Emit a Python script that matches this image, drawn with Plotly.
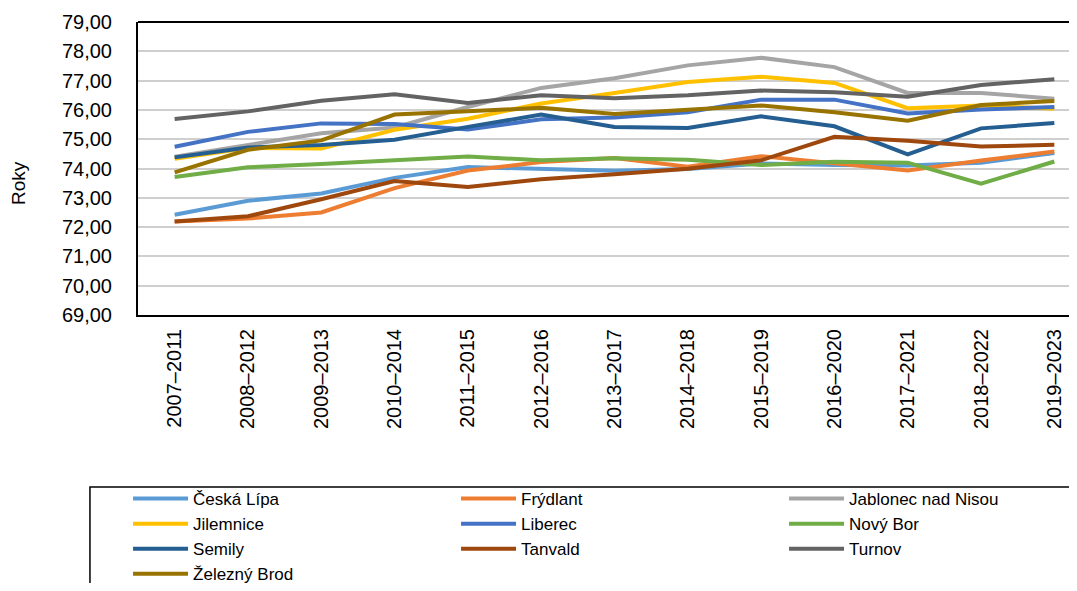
import plotly.graph_objects as go

categories = ["2007–2011", "2008–2012", "2009–2013", "2010–2014", "2011–2015", "2012–2016",
              "2013–2017", "2014–2018", "2015–2019", "2016–2020", "2017–2021", "2018–2022", "2019–2023"]

ceska_lipa = [72.42, 72.90, 73.15, 73.68, 74.05, 74.00, 73.92, 73.98, 74.17, 74.12, 74.10, 74.20, 74.53]
frydlant = [72.19, 72.29, 72.50, 73.33, 73.93, 74.22, 74.36, 74.06, 74.42, 74.19, 73.93, 74.27, 74.58]
jablonec = [74.40, 74.80, 75.20, 75.40, 76.10, 76.75, 77.08, 77.52, 77.78, 77.46, 76.58, 76.58, 76.38]
jilemnice = [74.33, 74.70, 74.68, 75.32, 75.70, 76.22, 76.58, 76.95, 77.13, 76.92, 76.06, 76.15, 76.04]
liberec = [74.74, 75.25, 75.54, 75.52, 75.33, 75.68, 75.74, 75.92, 76.35, 76.35, 75.88, 76.01, 76.10]
novy_bor = [73.71, 74.04, 74.15, 74.27, 74.41, 74.28, 74.35, 74.30, 74.12, 74.23, 74.20, 73.48, 74.24]
semily = [74.38, 74.72, 74.80, 74.98, 75.42, 75.84, 75.42, 75.38, 75.78, 75.44, 74.48, 75.37, 75.55]
tanvald = [72.19, 72.37, 72.95, 73.57, 73.37, 73.63, 73.80, 73.99, 74.28, 75.08, 74.95, 74.75, 74.81]
turnov = [75.69, 75.95, 76.31, 76.53, 76.24, 76.50, 76.40, 76.50, 76.66, 76.60, 76.45, 76.85, 77.05]
zelezny_brod = [73.87, 74.64, 74.96, 75.84, 75.95, 76.07, 75.86, 76.00, 76.15, 75.92, 75.63, 76.17, 76.30]

series_names = ["Česká Lípa", "Frýdlant", "Jablonec nad Nisou", "Jilemnice", "Liberec",
                "Nový Bor", "Semily", "Tanvald", "Turnov", "Železný Brod"]
series_values = [ceska_lipa, frydlant, jablonec, jilemnice, liberec,
                 novy_bor, semily, tanvald, turnov, zelezny_brod]
series_colors = ["#5B9BD5", "#ED7D31", "#A5A5A5", "#FFC000", "#4472C4",
                 "#70AD47", "#255E91", "#9E480E", "#636363", "#997300"]

y_ticks = [69, 70, 71, 72, 73, 74, 75, 76, 77, 78, 79]

FONT = "Liberation Sans, Arial, Helvetica, sans-serif"

fig = go.Figure()
for name, vals, col in zip(series_names, series_values, series_colors):
    fig.add_trace(go.Scatter(x=categories, y=vals, name=name, mode="lines",
                             line=dict(color=col, width=4)))

fig.update_layout(
    margin=dict(l=130, r=0, t=14, b=268, autoexpand=False),
    paper_bgcolor="white", plot_bgcolor="white",
    separators=", ",
    font=dict(family=FONT, color="black", size=18),
    showlegend=True,
    legend=dict(
        orientation="h", xref="paper", yref="paper",
        x=-0.0107, xanchor="left", y=-0.5665, yanchor="top",
        itemwidth=55, entrywidthmode="pixels", entrywidth=258,
        font=dict(family=FONT, size=17, color="black"),
        bgcolor="rgba(0,0,0,0)", borderwidth=0,
        traceorder="normal",
    ),
    xaxis=dict(
        type="category", range=[-0.5, 12.2],
        showline=True, linecolor="black", linewidth=2,
        showgrid=False, ticks="", tickangle=-90,
        tickfont=dict(family=FONT, size=20, color="black"),
        ticklabelstandoff=4, zeroline=False,
    ),
    yaxis=dict(
        range=[69, 79], tickvals=y_ticks, tickformat=".2f",
        showline=True, linecolor="black", linewidth=2,
        showgrid=True, gridcolor="#CFCFCF", gridwidth=2,
        ticks="", tickfont=dict(family=FONT, size=20, color="black"),
        ticklabelstandoff=20, zeroline=False,
    ),
    shapes=[
        dict(type="line", xref="paper", yref="paper", x0=0, x1=1, y0=1, y1=1,
             line=dict(color="black", width=2)),
        dict(type="rect", xref="paper", yref="paper", x0=-0.0516, x1=1.2, y0=-1.3, y1=-0.587,
             line=dict(color="black", width=1.5), fillcolor="rgba(0,0,0,0)", layer="below"),
    ],
    annotations=[
        dict(text="Roky", xref="paper", yref="paper", x=-0.1289, y=0.4505,
             xanchor="center", yanchor="middle", textangle=-90, showarrow=False,
             font=dict(family=FONT, size=19, color="black")),
    ],
)

fig.write_html("out.html")
